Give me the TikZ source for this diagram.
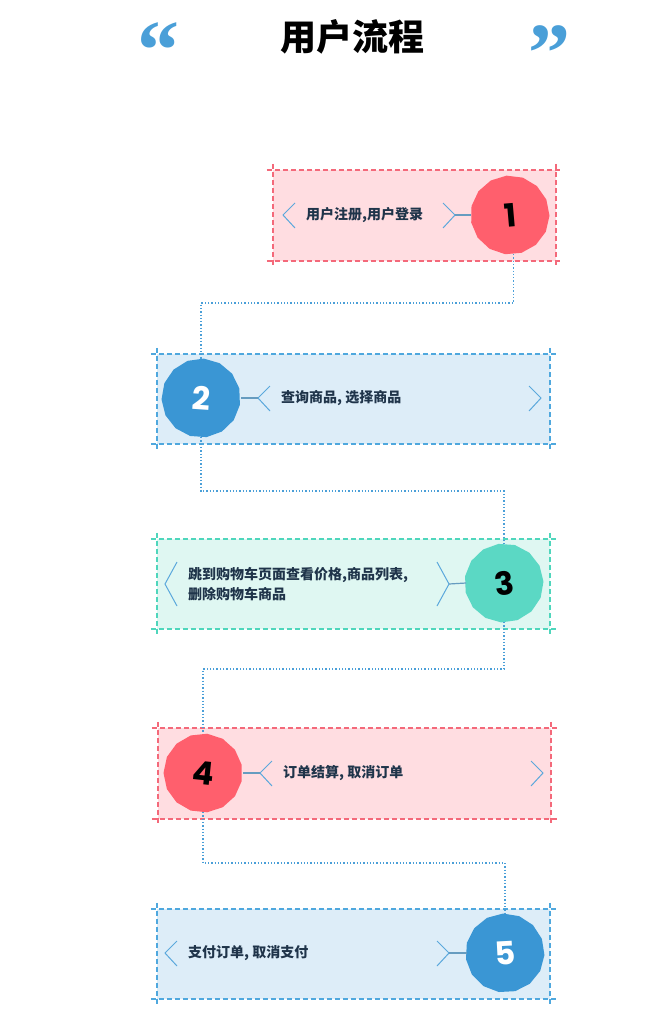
\documentclass[tikz,border=0pt]{standalone}
\usepackage{fontspec}
\usetikzlibrary{shapes.geometric}
\newfontfamily\cjk{Noto Sans CJK SC}
\newfontfamily\numfont{Poppins}
\newfontfamily\quotefont{Liberation Serif}
\definecolor{pinkfill}{HTML}{FFDDE1}
\definecolor{pinkline}{HTML}{F4697A}
\definecolor{redcirc}{HTML}{FF5F6D}
\definecolor{bluefill}{HTML}{DDEDF8}
\definecolor{blueline}{HTML}{4FA8DE}
\definecolor{bluecirc}{HTML}{3A96D4}
\definecolor{tealfill}{HTML}{DFF7F2}
\definecolor{tealline}{HTML}{4FD6BC}
\definecolor{tealcirc}{HTML}{5BD8C4}
\definecolor{chev}{HTML}{5BA8DC}
\definecolor{txt}{HTML}{1F344A}
\definecolor{dotc}{HTML}{4A9FD8}
\definecolor{quotec}{HTML}{4A9FD8}
\tikzset{
  boxfill/.style={rectangle, draw=none, inner sep=0pt, minimum height=#1},
  cropline/.style={draw=#1, dash pattern=on 5pt off 3pt, line width=1.6pt},
  blob/.style={regular polygon, regular polygon sides=15, minimum size=79pt, inner sep=0pt, font=\numfont\bfseries\fontsize{32}{32}\selectfont},
  chevline/.style={draw=chev, line width=1pt},
  linkline/.style={draw=chev!70!gray, line width=1.2pt},
  flow/.style={draw=dotc, dotted, line width=1.3pt},
  label/.style={anchor=west, text=txt, font=\cjk\bfseries\fontsize{14}{20}\selectfont, inner sep=0pt, align=left},
  quotemark/.style={font=\quotefont\bfseries\fontsize{84}{84}\selectfont, text=quotec, anchor=base, inner sep=0pt},
}
\newcommand{\cropbox}[2]{% name, color
  \draw[cropline=#2] ([xshift=-6pt]#1.north west) -- ([xshift=6pt]#1.north east);
  \draw[cropline=#2] ([xshift=-6pt]#1.south west) -- ([xshift=6pt]#1.south east);
  \draw[cropline=#2] ([yshift=6pt]#1.north west) -- ([yshift=-6pt]#1.south west);
  \draw[cropline=#2] ([yshift=6pt]#1.north east) -- ([yshift=-6pt]#1.south east);
}
\begin{document}
\begin{tikzpicture}[x=1pt,y=1pt]
\useasboundingbox[fill=white] (0,0) rectangle (666,-1017);

% title
\node[font=\cjk\bfseries\fontsize{36}{40}\selectfont, text=black] (title) at (352,-37) {用户流程};
\node[quotemark] (ql) at (158,-78) {“};
\node[quotemark] (qr) at (549,-81) {”};

% boxes
\node[boxfill=91pt, minimum width=283pt, fill=pinkfill] (b1) at (414.5,-215.5) {};
\node[boxfill=90pt, minimum width=393pt, fill=bluefill] (b2) at (353.5,-399) {};
\node[boxfill=90pt, minimum width=393pt, fill=tealfill] (b3) at (353.5,-584) {};
\node[boxfill=91pt, minimum width=393pt, fill=pinkfill] (b4) at (354.5,-773.5) {};
\node[boxfill=90pt, minimum width=393pt, fill=bluefill] (b5) at (353.5,-954) {};
\cropbox{b1}{pinkline}
\cropbox{b2}{blueline}
\cropbox{b3}{tealline}
\cropbox{b4}{pinkline}
\cropbox{b5}{blueline}

% circles
\node[blob, fill=redcirc, text=black, rotate=5] (c1) at (510,-215) {1};
\node[blob, fill=bluecirc, text=white, rotate=-4] (c2) at (201,-398) {2};
\node[blob, fill=tealcirc, text=black, rotate=8] (c3) at (504,-583) {3};
\node[blob, fill=redcirc, text=black, rotate=-6] (c4) at (203,-773) {4};
\node[blob, fill=bluecirc, text=white, rotate=3] (c5) at (505,-953) {5};

% flow connectors
\coordinate (m12) at (0,-303);
\coordinate (m23) at (0,-491);
\coordinate (m34) at (0,-669);
\coordinate (m45) at (0,-863);
\draw[flow] (c1.south |- 0,-254) |- (m12 -| c2) -- (c2.center |- 0,-359);
\draw[flow] (c2.center |- 0,-437) |- (m23 -| c3) -- (c3.center |- 0,-544);
\draw[flow] (c3.center |- 0,-622) |- (m34 -| c4) -- (c4.center |- 0,-733);
\draw[flow] (c4.center |- 0,-812) |- (m45 -| c5) -- (c5.center |- 0,-914);

% chevrons
\coordinate (l1) at (283,-215); \coordinate (r1) at (455,-215);
\draw[chevline] (295,-203) -- (l1) -- (295,-228);
\draw[chevline] (443,-203) -- (r1) -- (443,-228);
\coordinate (l2) at (258,-398); \coordinate (r2) at (541,-398);
\draw[chevline] (270,-386) -- (l2) -- (270,-411);
\draw[chevline] (529,-386) -- (r2) -- (529,-411);
\coordinate (l3) at (165,-584); \coordinate (r3) at (449,-584);
\draw[chevline] (177,-562) -- (l3) -- (177,-606);
\draw[chevline] (437,-562) -- (r3) -- (437,-606);
\coordinate (l4) at (260,-773); \coordinate (r4) at (543,-773);
\draw[chevline] (272,-761) -- (l4) -- (272,-786);
\draw[chevline] (531,-761) -- (r4) -- (531,-786);
\coordinate (l5) at (165,-953); \coordinate (r5) at (449,-953);
\draw[chevline] (177,-941) -- (l5) -- (177,-966);
\draw[chevline] (437,-941) -- (r5) -- (437,-966);

% link lines
\draw[linkline] (r1) -- (c1.center -| 471,0);
\draw[linkline] (c2.center -| 241,0) -- (l2);
\draw[linkline] (r3) -- (c3.center -| 466,0);
\draw[linkline] (c4.center -| 243,0) -- (l4);
\draw[linkline] (r5) -- (c5.center -| 467,0);

% labels
\node[label] (t1) at (306,-215) {用户注册,用户登录};
\node[label] (t2) at (281,-398) {查询商品, 选择商品};
\node[label] (t3) at (188,-584) {跳到购物车页面查看价格,商品列表,\\删除购物车商品};
\node[label] (t4) at (283,-773) {订单结算, 取消订单};
\node[label] (t5) at (188,-953) {支付订单, 取消支付};
\end{tikzpicture}
\end{document}
